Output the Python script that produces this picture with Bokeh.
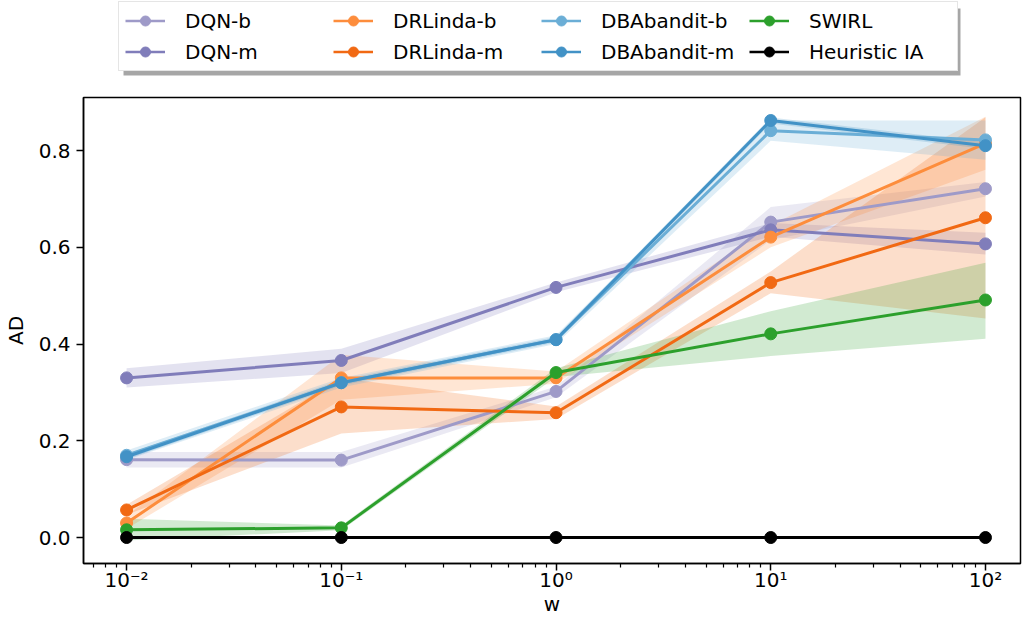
from bokeh.plotting import figure
from bokeh.layouts import column
from bokeh.models import Range1d, FixedTicker, Legend, LegendItem, BoxAnnotation
from bokeh.embed import file_html
from bokeh.resources import INLINE

# ---- data ----
w = [0.01, 0.1, 1, 10, 100]

dqn_b = [0.161, 0.160, 0.302, 0.652, 0.721]
dqn_b_lo = [0.145, 0.145, 0.290, 0.615, 0.705]
dqn_b_hi = [0.177, 0.177, 0.312, 0.683, 0.735]

dqn_m = [0.330, 0.366, 0.517, 0.636, 0.607]
dqn_m_lo = [0.310, 0.340, 0.507, 0.622, 0.585]
dqn_m_hi = [0.350, 0.390, 0.527, 0.650, 0.630]

drl_b = [0.030, 0.330, 0.330, 0.621, 0.815]
drl_b_lo = [0.018, 0.285, 0.318, 0.600, 0.760]
drl_b_hi = [0.045, 0.378, 0.343, 0.645, 0.870]

drl_m = [0.057, 0.270, 0.258, 0.527, 0.661]
drl_m_lo = [0.047, 0.215, 0.245, 0.505, 0.453]
drl_m_hi = [0.068, 0.330, 0.271, 0.550, 0.869]

dba_b = [0.170, 0.320, 0.409, 0.841, 0.822]
dba_b_lo = [0.160, 0.310, 0.400, 0.820, 0.781]
dba_b_hi = [0.180, 0.330, 0.418, 0.862, 0.862]

dba_m = [0.167, 0.320, 0.409, 0.862, 0.810]
dba_m_lo = [0.162, 0.314, 0.403, 0.856, 0.803]
dba_m_hi = [0.172, 0.326, 0.415, 0.868, 0.817]

swirl = [0.016, 0.020, 0.341, 0.421, 0.491]
swirl_lo = [-0.006, 0.015, 0.332, 0.375, 0.411]
swirl_hi = [0.039, 0.025, 0.350, 0.468, 0.568]

heur = [0.0, 0.0, 0.0, 0.0, 0.0]
heur_lo = [0.0, 0.0, 0.0, 0.0, 0.0]
heur_hi = [0.0, 0.0, 0.0, 0.0, 0.0]

names = ["DQN-b", "DQN-m", "DRLinda-b", "DRLinda-m", "DBAbandit-b", "DBAbandit-m", "SWIRL", "Heuristic IA"]
colors = ["#9e9ac8", "#807dba", "#fd8d3c", "#f16913", "#6baed6", "#4292c6", "#2ca02c", "#000000"]
means = [dqn_b, dqn_m, drl_b, drl_m, dba_b, dba_m, swirl, heur]
lows = [dqn_b_lo, dqn_m_lo, drl_b_lo, drl_m_lo, dba_b_lo, dba_m_lo, swirl_lo, heur_lo]
highs = [dqn_b_hi, dqn_m_hi, drl_b_hi, drl_m_hi, dba_b_hi, dba_m_hi, swirl_hi, heur_hi]

xtick_values = [0.01, 0.1, 1, 10, 100]
xtick_labels = ["10\u207b\u00b2", "10\u207b\u00b9", "10\u2070", "10\u00b9", "10\u00b2"]
ytick_values = [0.0, 0.2, 0.4, 0.6, 0.8]
ytick_labels = ["0.0", "0.2", "0.4", "0.6", "0.8"]

FONT = "DejaVu Sans"
FS = "20px"

# ---------------- main chart ----------------
p = figure(width=1033, height=553, x_axis_type="log", title=None,
           x_range=Range1d(0.0063, 145.6), y_range=Range1d(-0.0537, 0.9096),
           output_backend="svg", toolbar_location=None,
           min_border_left=83, min_border_right=13, min_border_top=17, min_border_bottom=70)
p.frame_align = False

p.xgrid.visible = False
p.ygrid.visible = False
p.outline_line_color = "black"
p.outline_line_width = 1.5

minor = []
for d in [0.001, 0.01, 0.1, 1, 10, 100]:
    for k in range(2, 10):
        minor.append(d * k)
p.xaxis.ticker = FixedTicker(ticks=xtick_values, minor_ticks=minor)
p.xaxis.major_label_overrides = dict(zip(xtick_values, xtick_labels))
p.yaxis.ticker = FixedTicker(ticks=ytick_values, minor_ticks=[])
p.yaxis.major_label_overrides = dict(zip(ytick_values, ytick_labels))

for ax in (p.xaxis, p.yaxis):
    ax.major_label_text_font = FONT
    ax.major_label_text_font_size = FS
    ax.major_label_text_color = "black"
    ax.axis_label_text_font = FONT
    ax.axis_label_text_font_size = FS
    ax.axis_label_text_font_style = "normal"
    ax.axis_label_text_color = "black"
    ax.axis_line_width = 1.5
    ax.major_tick_line_width = 1.5
    ax.minor_tick_line_width = 1.2
    ax.major_tick_in = 0
    ax.major_tick_out = 7
    ax.minor_tick_in = 0
    ax.minor_tick_out = 4
p.xaxis.axis_label = "w"
p.yaxis.axis_label = "AD"
p.xaxis.major_label_standoff = -3
p.yaxis.major_label_standoff = 6
p.xaxis.axis_label_standoff = -3
p.yaxis.axis_label_standoff = 8

# bands first (below all lines)
for c, lo, hi in zip(colors, lows, highs):
    p.varea(x=w, y1=lo, y2=hi, fill_color=c, fill_alpha=0.22)

for c, m in zip(colors, means):
    p.line(w, m, line_color=c, line_width=3)
    p.scatter(w, m, marker="circle", size=12, fill_color=c, line_color=c)

# ---------------- legend strip ----------------
leg = figure(width=1033, height=80, title=None, x_axis_location=None, y_axis_location=None,
             x_range=Range1d(1000, 1001), y_range=Range1d(1000, 1001),
             output_backend="svg", toolbar_location=None, min_border=0)
leg.frame_align = False
leg.xgrid.visible = False
leg.ygrid.visible = False
leg.outline_line_color = None

items = []
for n, c, m in zip(names, colors, means):
    ln = leg.line(w, m, line_color=c, line_width=2.5)
    sc = leg.scatter(w, m, marker="circle", size=9, fill_color=c, line_color=c)
    items.append(LegendItem(label=n, renderers=[ln, sc]))

shadow = BoxAnnotation(left=123, right=960, top=72, bottom=5,
                       left_units="screen", right_units="screen",
                       top_units="screen", bottom_units="screen",
                       fill_color="black", fill_alpha=0.35, line_color=None)
leg.add_layout(shadow)

legend = Legend(items=items, orientation="vertical", ncols=4, location=(118, 9),
                label_text_font=FONT, label_text_font_size=FS, label_text_color="black",
                glyph_width=40, glyph_height=25, label_height=25, label_width=142,
                label_standoff=20, spacing=6, padding=6, margin=0,
                border_line_color="#cccccc", border_line_width=1.5,
                background_fill_color="white", background_fill_alpha=1.0)
leg.add_layout(legend)

layout = column(leg, p, spacing=0)
open("out.html", "w").write(file_html(layout, INLINE))
